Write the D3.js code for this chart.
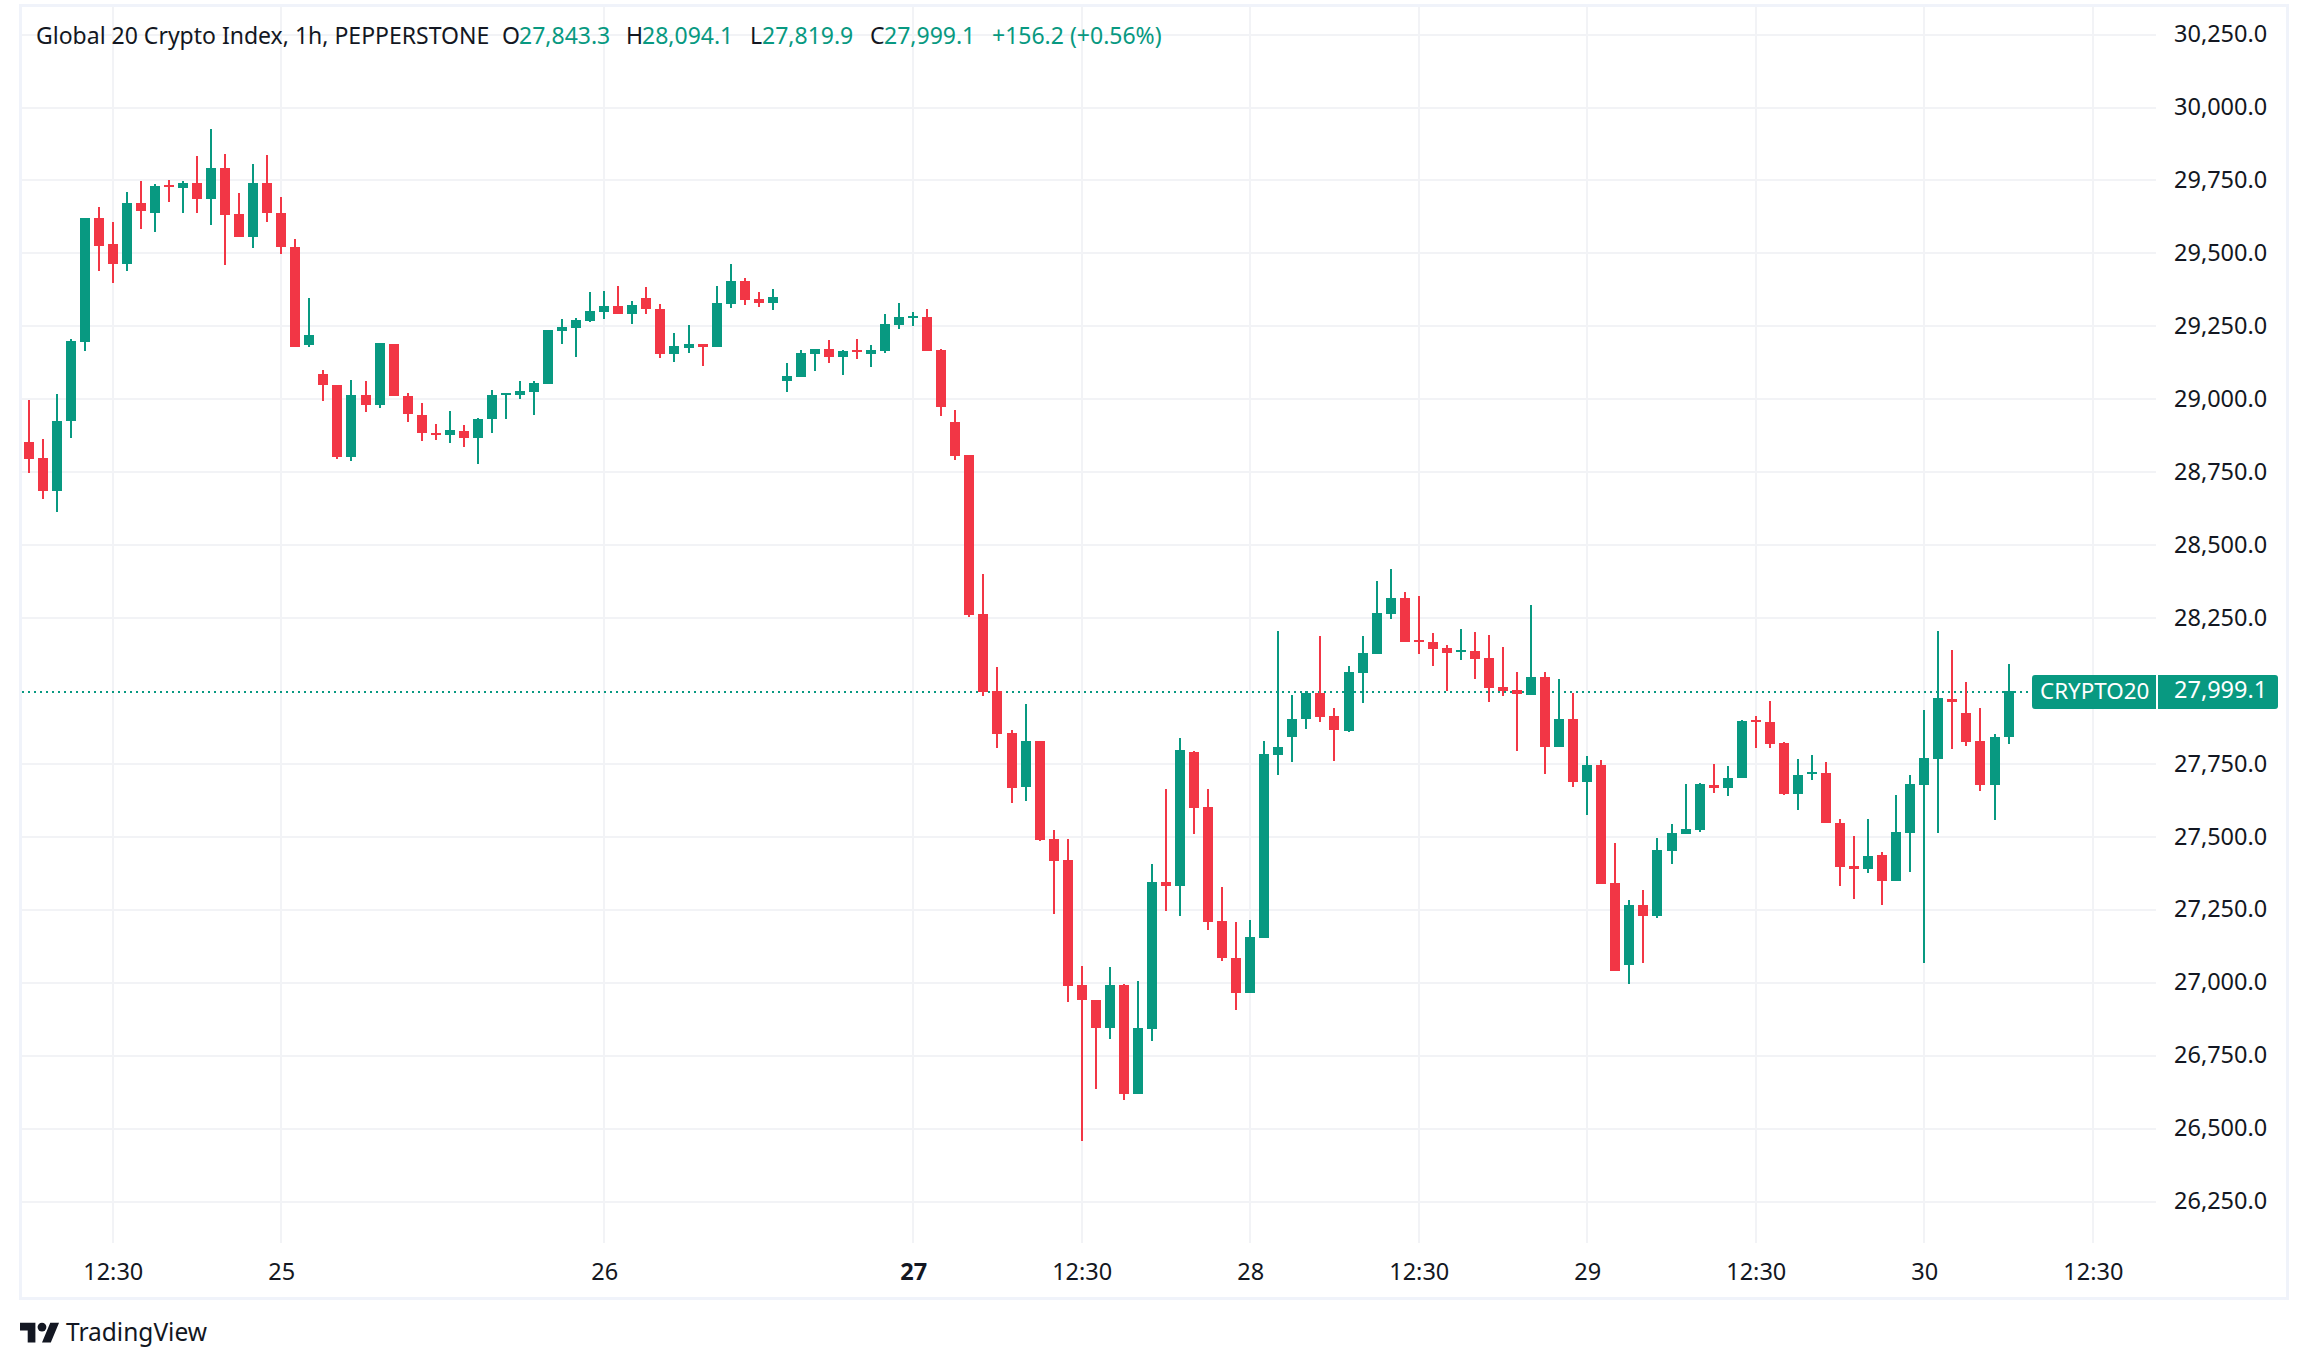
<!DOCTYPE html>
<html>
<head>
<meta charset="utf-8">
<script src="https://cdn.jsdelivr.net/npm/d3@7"></script>
<style>
  html, body { margin: 0; background: #fff; }
  text { font-family: "Noto Sans", sans-serif; }
</style>
</head>
<body>
<div id="chart"></div>
<script>
// candles, one hour each
const opens = [28854,28799,28687,28924,29198,29622,29533,29465,29673,29640,
  29735,29723,29742,29685,29793,29636,29555,29742,29639,29523,
  29185,29088,29050,28804,29016,28982,29190,29012,28947,28885,
  28876,28892,28866,28931,29017,29016,29026,29053,29235,29245,
  29270,29300,29321,29293,29348,29310,29156,29177,29190,29180,
  29327,29406,29345,29331,29064,29077,29156,29173,29146,29170,
  29156,29166,29255,29281,29283,29170,28923,28810,28265,27999,
  27856,27671,27829,27493,27421,26992,26941,26845,26992,26619,
  26842,27346,27332,27791,27603,27212,27085,26965,27154,27780,
  27841,27903,27992,27913,27862,28061,28126,28263,28318,28174,
  28167,28146,28133,28136,28112,28013,28003,27985,28050,27807,
  27903,27687,27745,27341,27060,27266,27228,27451,27509,27523,
  27677,27667,27701,27901,27894,27822,27647,27716,27719,27548,
  27400,27390,27438,27349,27513,27678,27767,27973,27925,27829,
  27678,27843.3];
const highs = [28998,28865,29019,29207,29622,29660,29608,29711,29749,29739,
  29752,29749,29834,29927,29841,29708,29807,29838,29693,29550,
  29348,29101,29050,29067,29064,29194,29190,29022,28988,28916,
  28961,28913,28937,29033,29022,29064,29064,29238,29276,29279,
  29369,29372,29389,29338,29386,29327,29228,29255,29190,29389,
  29465,29417,29369,29379,29125,29170,29173,29204,29170,29207,
  29187,29293,29331,29300,29310,29173,28964,28810,28402,28082,
  27866,27956,27829,27524,27493,27058,26941,27054,26996,27006,
  27407,27664,27839,27795,27664,27328,27208,27215,27829,28205,
  27985,27999,28188,27941,28085,28188,28376,28417,28338,28325,
  28198,28157,28212,28201,28191,28150,28064,28294,28064,28040,
  27992,27776,27763,27478,27283,27320,27495,27543,27680,27684,
  27749,27742,27900,27915,27966,27825,27767,27781,27757,27561,
  27503,27561,27448,27644,27712,27935,28206,28141,28031,27942,
  27853,28094.1];
const lows = [28749,28660,28615,28866,29167,29441,29400,29441,29585,29575,
  29675,29637,29640,29599,29462,29555,29517,29609,29497,29181,
  29178,28993,28797,28787,28958,28969,29013,28921,28856,28859,
  28852,28838,28780,28883,28934,29000,28946,29053,29190,29146,
  29264,29276,29294,29259,29293,29142,29129,29160,29115,29180,
  29314,29324,29317,29307,29026,29077,29098,29125,29084,29139,
  29112,29160,29242,29252,29166,28944,28793,28255,27984,27805,
  27616,27623,27486,27236,26934,26458,26636,26807,26598,26619,
  26801,27246,27229,27510,27181,27075,26907,26965,27154,27711,
  27756,27869,27893,27759,27859,27958,28126,28246,28167,28126,
  28085,27999,28105,28040,27961,27982,27793,27985,27715,27807,
  27673,27577,27338,27039,26995,27067,27224,27406,27509,27516,
  27650,27639,27701,27805,27805,27644,27592,27695,27548,27332,
  27287,27376,27267,27349,27380,27068,27513,27801,27812,27657,
  27558,27819.9];
const closes = [28797,28687,28926,29200,29622,29527,29465,29673,29644,29732,
  29729,29742,29685,29793,29633,29555,29742,29637,29521,29181,
  29221,29048,28804,29016,28982,29194,29013,28948,28883,28876,
  28896,28866,28933,29016,29022,29029,29057,29238,29249,29273,
  29303,29321,29294,29324,29308,29156,29183,29190,29180,29331,
  29406,29341,29331,29351,29081,29160,29173,29146,29166,29164,
  29170,29259,29283,29286,29166,28974,28806,28261,27998,27853,
  27668,27829,27489,27418,26989,26941,26845,26992,26619,26845,
  27346,27332,27798,27599,27208,27085,26965,27157,27784,27807,
  27906,27992,27910,27865,28064,28129,28266,28318,28167,28167,
  28143,28129,28140,28109,28009,27999,27989,28050,27807,27903,
  27687,27745,27338,27039,27266,27228,27454,27512,27526,27680,
  27667,27701,27896,27894,27819,27647,27712,27723,27548,27397,
  27390,27435,27349,27517,27681,27771,27976,27962,27825,27678,
  27842,27999.1];

const priceTicks = [30250,30000,29750,29500,29250,29000,28750,28500,28250,27750,27500,27250,27000,26750,26500,26250];
const timeIndex = [6,18,41,63,75,87,99,111,123,135,147];
const timeLabels = ["12:30","25","26","27","12:30","28","12:30","29","12:30","30","12:30"];
const lastPrice = 27999.1;

const green = "#089981", red = "#f23645", ink = "#131722", gridColor = "#f2f3f6", frameColor = "#f0f3fa";

const svg = d3.select("#chart").append("svg")
    .attr("width", 2308)
    .attr("height", 1369);

const x = d3.scaleLinear().domain([0, 147]).range([28.5, 2092.8]);
const y = d3.scaleLinear().domain([26250, 30250]).range([1201.7, 34.6]);

// frame
svg.append("rect")
    .attr("x", 20.5).attr("y", 5.5)
    .attr("width", 2267).attr("height", 1293)
    .attr("fill", "none")
    .attr("stroke", frameColor)
    .attr("stroke-width", 3);

// grid
const grid = svg.append("g").attr("shape-rendering", "crispEdges").attr("stroke", gridColor).attr("stroke-width", 2);
grid.append("g").selectAll("line").data(priceTicks).join("line")
    .attr("x1", 22).attr("x2", 2156)
    .attr("y1", d => y(d)).attr("y2", d => y(d));
grid.append("g").selectAll("line").data(timeIndex).join("line")
    .attr("x1", d => x(d)).attr("x2", d => x(d))
    .attr("y1", 7).attr("y2", 1243);

// last price line
svg.append("line")
    .attr("x1", 22).attr("x2", 2032)
    .attr("y1", Math.round(y(lastPrice)) + 1).attr("y2", Math.round(y(lastPrice)) + 1)
    .attr("stroke", green).attr("stroke-width", 2)
    .attr("shape-rendering", "crispEdges")
    .attr("stroke-dasharray", "2 4");

// candles
const candles = svg.append("g").attr("shape-rendering", "crispEdges")
    .selectAll("g").data(d3.range(opens.length)).join("g")
    .attr("fill", i => closes[i] >= opens[i] ? green : red);
candles.append("rect")
    .attr("x", i => Math.round(x(i)) - 1)
    .attr("width", 2)
    .attr("y", i => Math.round(y(highs[i])))
    .attr("height", i => Math.max(1, Math.round(y(lows[i])) - Math.round(y(highs[i]))));
candles.append("rect")
    .attr("x", i => Math.round(x(i)) - 5)
    .attr("width", 10)
    .attr("y", i => Math.round(y(Math.max(opens[i], closes[i]))))
    .attr("height", i => Math.max(2, Math.round(y(Math.min(opens[i], closes[i]))) - Math.round(y(Math.max(opens[i], closes[i])))));

// price axis
const priceAxis = svg.append("g")
    .attr("transform", "translate(2158,0)")
    .call(d3.axisRight(y).tickValues(priceTicks).tickFormat(d3.format(",.1f")).tickSize(0).tickPadding(16));
priceAxis.select(".domain").remove();
priceAxis.selectAll("text")
    .attr("dy", "0.3em")
    .attr("fill", ink)
    .style("font-size", "23.5px");

// time axis
const timeAxis = svg.append("g")
    .attr("transform", "translate(0,1243)")
    .call(d3.axisBottom(x).tickValues(timeIndex).tickFormat((d, i) => timeLabels[i]).tickSize(0).tickPadding(20));
timeAxis.select(".domain").remove();
timeAxis.selectAll("text")
    .attr("fill", ink)
    .style("font-size", "23.5px")
    .style("font-weight", d => d === 63 ? "700" : "400");

// last price tags
svg.append("path")
    .attr("d", "M2156 675H2035a3 3 0 0 0 -3 3V706a3 3 0 0 0 3 3H2156Z")
    .attr("fill", green);
svg.append("path")
    .attr("d", "M2158 675H2275a3 3 0 0 1 3 3V706a3 3 0 0 1 -3 3H2158Z")
    .attr("fill", green);
svg.append("text")
    .attr("x", 2040).attr("y", y(lastPrice)).attr("dy", "0.35em")
    .attr("fill", "#fff").style("font-size", "22.4px")
    .text("CRYPTO20");
svg.append("text")
    .attr("x", 2174).attr("y", y(lastPrice)).attr("dy", "0.3em")
    .attr("fill", "#fff").style("font-size", "23.5px")
    .text(d3.format(",.1f")(lastPrice));

// legend line
const legend = [
  [36, "Global 20 Crypto Index, 1h, PEPPERSTONE", ink],
  [502, "O", ink], [519, "27,843.3", green],
  [626, "H", ink], [642, "28,094.1", green],
  [750, "L", ink], [762, "27,819.9", green],
  [870, "C", ink], [884, "27,999.1", green],
  [992, "+156.2 (+0.56%)", green]
];
svg.append("g").selectAll("text").data(legend).join("text")
    .attr("x", d => d[0])
    .attr("y", 44)
    .attr("fill", d => d[2])
    .style("font-size", "23px")
    .text(d => d[1]);

// TradingView mark
const logo = svg.append("g")
    .attr("transform", "translate(20,1315) scale(1.1)")
    .attr("fill", ink);
logo.append("path").attr("d", "M14 25H7V14H0V7h14v18zM28 25h-8l7.5-18h8L28 25z");
logo.append("circle").attr("cx", 20).attr("cy", 11).attr("r", 4);
svg.append("text")
    .attr("x", 66).attr("y", 1341)
    .attr("fill", ink)
    .attr("textLength", 141)
    .attr("lengthAdjust", "spacingAndGlyphs")
    .style("font-size", "26px")
    .text("TradingView");
</script>
</body>
</html>
